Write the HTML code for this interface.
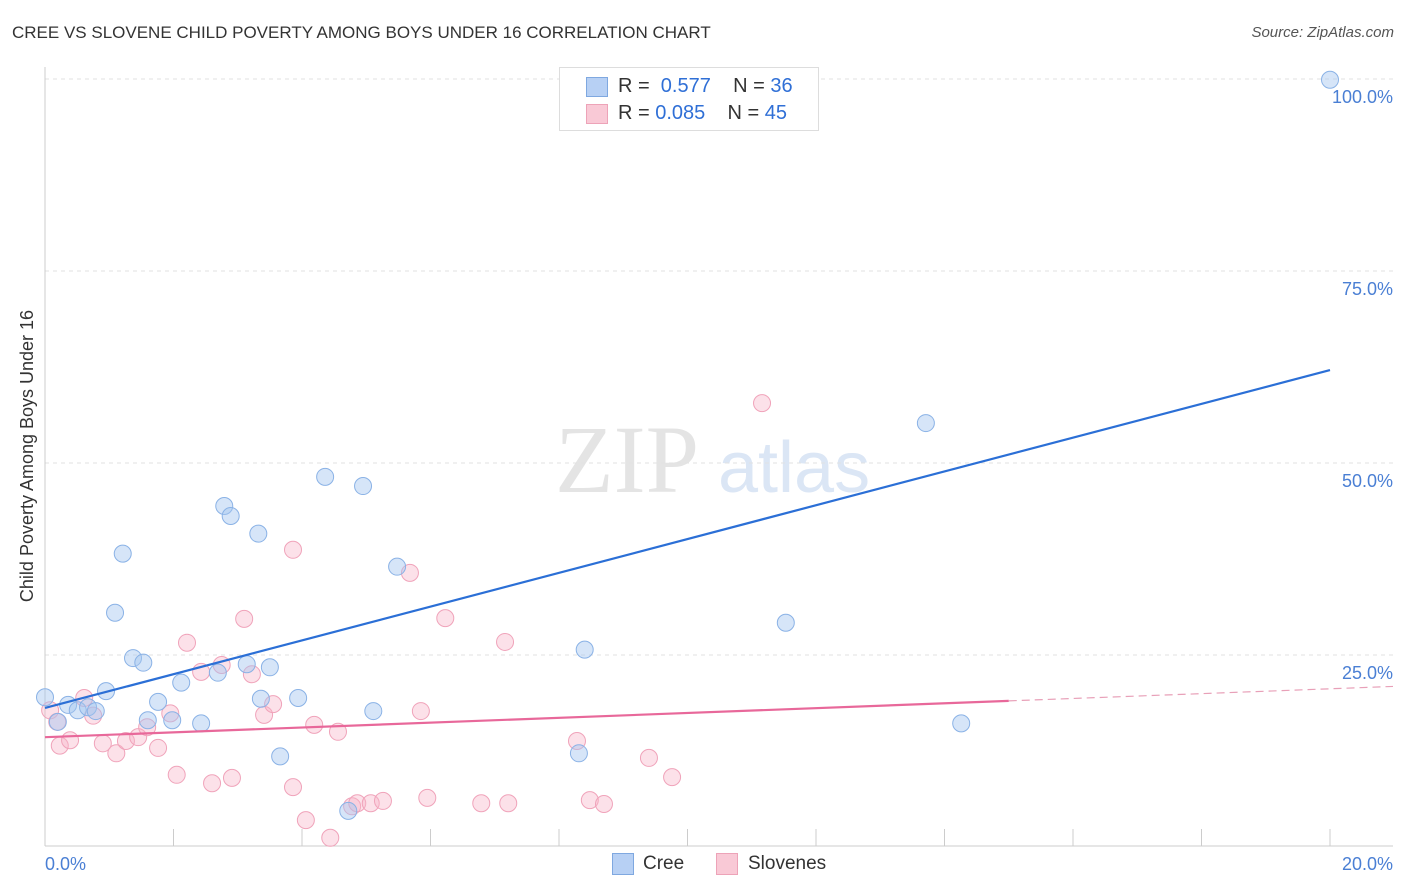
<!DOCTYPE html>
<html><head><meta charset="utf-8"><style>
body{margin:0;background:#fff;font-family:"Liberation Sans",sans-serif;}
#wrap{position:relative;width:1406px;height:892px;overflow:hidden;}
.t{position:absolute;white-space:nowrap;}
</style></head><body>
<div id="wrap">
<div class="t" style="left:12px;top:23px;font-size:17px;color:#333;">CREE VS SLOVENE CHILD POVERTY AMONG BOYS UNDER 16 CORRELATION CHART</div>
<div class="t" style="right:12px;top:24px;font-size:15px;color:#555;font-style:italic;">Source: ZipAtlas.com</div>
<svg id="svg" width="1406" height="892" style="position:absolute;left:0;top:0">
<text x="555" y="492" font-family="Liberation Serif" font-size="96" fill="#e4e4e4">ZIP</text>
<text x="718" y="492" font-family="Liberation Sans" font-size="72" fill="#dbe6f5">atlas</text>
<text transform="translate(33,456) rotate(-90)" text-anchor="middle" font-size="18" fill="#333">Child Poverty Among Boys Under 16</text>
<g id="grid"></g><g id="marks"></g>
</svg>
<div style="position:absolute;left:559px;top:67px;width:258px;height:62px;border:1px solid #ddd;background:#fff;">
<div style="position:absolute;left:26px;top:9px;width:20px;height:18px;background:#b7d0f4;border:1px solid #7fa8e0;"></div>
<div class="t" style="left:58px;top:7px;font-size:20px;color:#333;">R = <span style="color:#2f6fd6">&nbsp;0.577</span>&nbsp;&nbsp;&nbsp;&nbsp;N = <span style="color:#2f6fd6">36</span></div>
<div style="position:absolute;left:26px;top:36px;width:20px;height:18px;background:#f9c9d6;border:1px solid #eda3b8;"></div>
<div class="t" style="left:58px;top:34px;font-size:20px;color:#333;">R = <span style="color:#2f6fd6">0.085</span>&nbsp;&nbsp;&nbsp;&nbsp;N = <span style="color:#2f6fd6">45</span></div>
</div>
<div style="position:absolute;left:612px;top:853px;width:20px;height:20px;background:#b7d0f4;border:1px solid #7fa8e0;"></div>
<div class="t" style="left:643px;top:853px;font-size:19px;color:#333;">Cree</div>
<div style="position:absolute;left:716px;top:853px;width:20px;height:20px;background:#f9c9d6;border:1px solid #eda3b8;"></div>
<div class="t" style="left:748px;top:853px;font-size:19px;color:#333;">Slovenes</div>
</div>
<script>
const creeX=[0.00,0.20,0.36,0.51,0.67,0.79,0.95,1.09,1.21,1.37,1.53,1.60,1.76,1.98,2.12,2.43,2.69,2.79,2.89,3.14,3.32,3.36,3.50,3.66,3.94,4.36,4.72,4.95,5.11,5.48,8.31,8.40,11.53,13.71,14.26,20.0];
const creeY=[19.5,16.3,18.5,17.8,18.2,17.7,20.3,30.5,38.2,24.6,24.0,16.5,18.9,16.5,21.4,16.1,22.7,44.4,43.1,23.8,40.8,19.3,23.4,11.8,19.4,48.2,4.7,47.0,17.7,36.5,12.2,25.7,29.2,55.2,16.1,99.9];
const sloX=[0.08,0.19,0.23,0.39,0.61,0.75,0.90,1.11,1.26,1.45,1.59,1.76,1.95,2.05,2.21,2.43,2.60,2.75,2.91,3.10,3.22,3.41,3.55,3.86,3.86,4.06,4.19,4.44,4.56,4.78,4.86,5.07,5.26,5.68,5.85,5.95,6.23,6.79,7.16,7.21,8.28,8.48,8.70,9.40,9.76,11.16];
const sloY=[17.8,16.3,13.2,13.9,19.4,17.1,13.5,12.2,13.8,14.3,15.6,12.9,17.4,9.4,26.6,22.8,8.3,23.7,9.0,29.7,22.5,17.2,18.6,7.8,38.7,3.5,15.9,1.2,15.0,5.3,5.7,5.7,6.0,35.7,17.7,6.4,29.8,5.7,26.7,5.7,13.8,6.1,5.6,11.6,9.1,57.8];
const yTicks=[100,75,50,25];
const yTickLabels=["100.0%","75.0%","50.0%","25.0%"];
const xTickLabels=["0.0%","20.0%"];
const creeTrend=[18.1,62.1];
const sloTrend=[14.3,20.6];
const sloSolidEnd=15.0;
const X=v=>45+v*64.25, Y=v=>847-v*7.68;
const NS="http://www.w3.org/2000/svg";
const grid=document.getElementById('grid'), marks=document.getElementById('marks');
function mk(tag,attrs,parent){const e=document.createElementNS(NS,tag);for(const k in attrs)e.setAttribute(k,attrs[k]);parent.appendChild(e);return e;}
yTicks.forEach((t,i)=>{
 const l=mk('line',{x1:45,x2:1393,y1:Y(t),y2:Y(t),stroke:'#e2e2e2','stroke-dasharray':'4,4'},grid);
 
 
 const tx=mk('text',{x:1393,y:Y(t)+24,'text-anchor':'end','font-size':18,fill:'#4a7fd4'},grid);
 tx.textContent=yTickLabels[i];
 
 
});
let ax=mk('line',{x1:45,x2:45,y1:67,y2:846,stroke:'#ccc'},grid);


let bx=mk('line',{x1:45,x2:1393,y1:846,y2:846,stroke:'#ccc'},grid);


for(let i=0;i<=10;i++){const t=mk('line',{x1:X(i*2),x2:X(i*2),y1:829,y2:846,stroke:'#ccc'},grid);
 
 }
[[0,'start'],[20,'end']].forEach((p,i)=>{const t=mk('text',{x:i?1393:45,y:870,'text-anchor':p[1],'font-size':18,fill:'#4a7fd4'},grid);
 t.textContent=xTickLabels[i];
 
 });
sloX.forEach((x,i)=>{const c=mk('circle',{cx:X(x),cy:Y(sloY[i]),r:8.5,fill:'rgba(248,180,200,0.4)',stroke:'#f0a3ba','stroke-width':1},marks);
 
 });
creeX.forEach((x,i)=>{const c=mk('circle',{cx:X(x),cy:Y(creeY[i]),r:8.5,fill:'rgba(165,198,240,0.45)',stroke:'#8ab2e6','stroke-width':1},marks);
 
 });
let bl=mk('line',{x1:X(0),y1:Y(creeTrend[0]),x2:X(20),y2:Y(creeTrend[1]),stroke:'#2b6fd6','stroke-width':2.2},marks);


const sy=v=>sloTrend[0]+(sloTrend[1]-sloTrend[0])*v/20;
let pl=mk('line',{x1:X(0),y1:Y(sy(0)),x2:X(sloSolidEnd),y2:Y(sy(sloSolidEnd)),stroke:'#e8689a','stroke-width':2.2},marks);


let pd=mk('line',{x1:X(sloSolidEnd),y1:Y(sy(sloSolidEnd)),x2:1393,y2:Y(sy((1393-45)/64.25)),stroke:'#e8a0b8','stroke-width':1.2,'stroke-dasharray':'8,5'},marks);


</script>
</body></html>
